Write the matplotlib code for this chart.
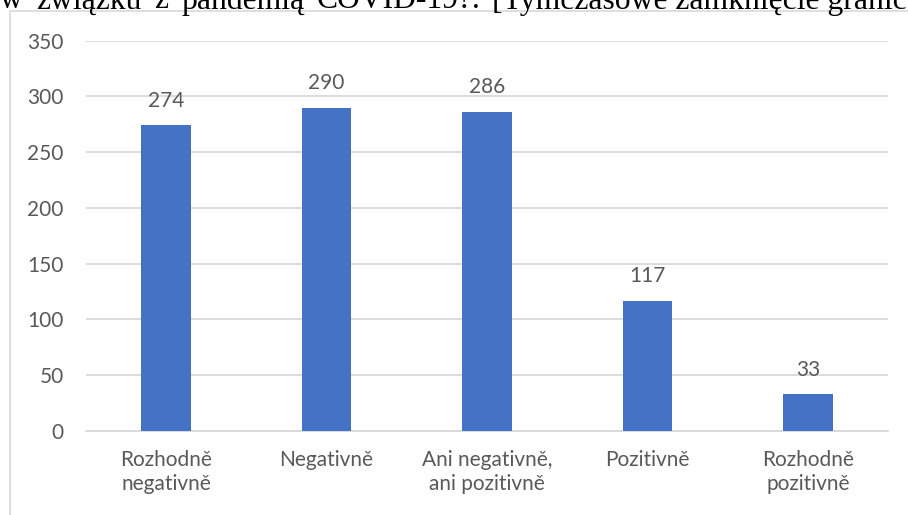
import matplotlib.pyplot as plt
import matplotlib.patches as mpatches

categories = ['Rozhodně\nnegativně', 'Negativně', 'Ani negativně,\nani pozitivně',
              'Pozitivně', 'Rozhodně\npozitivně']
values = [274, 290, 286, 117, 33]
yticks = [0, 50, 100, 150, 200, 250, 300, 350]
title_left_words = ['w', 'związku', 'z', 'pandemią', 'COVID-19?.']
title_right = '[Tymczasowe zamknięcie granic]'

bar_color = '#4472C4'
text_color = '#595959'
grid_color = '#D9D9D9'

plt.rcParams['font.family'] = ['Lato', 'DejaVu Sans']

fig = plt.figure(figsize=(9.08, 5.15), dpi=100)
W, H = 908, 515

# chart frame (cut off on the right and bottom like the screenshot)
frame = mpatches.Rectangle((10 / W, -0.1), 1.2, 1 - 11 / H + 0.1,
                           transform=fig.transFigure, fill=False,
                           edgecolor=grid_color, lw=1.2)
fig.patches.append(frame)

# clipped line of justified document text above the chart
base_y = 1 - 8.5 / H
tkw = dict(family='Liberation Serif', fontsize=22.8, color='black',
           va='baseline', ha='left')
fig.text(492 / W, base_y, title_right, **tkw)
renderer = fig.canvas.get_renderer()
words = [fig.text(0, base_y, w_, **tkw) for w_ in title_left_words]
widths = [t.get_window_extent(renderer).width for t in words]
gap = (481 - sum(widths)) / (len(words) - 1)
xpos = 0
for t, wd in zip(words, widths):
    t.set_x(xpos / W)
    xpos += wd + gap

ax = fig.add_axes([86 / W, 1 - 431 / H, 802 / W, 390.3 / H])
x = range(len(categories))
bars = ax.bar(x, values, width=0.31, color=bar_color, zorder=3)

ax.set_xlim(-0.5, len(categories) - 0.5)
ax.set_ylim(0, 350)
ax.set_yticks(yticks)
ax.set_xticks(list(x))
ax.set_xticklabels(categories, linespacing=1.25)

ax.grid(axis='y', color=grid_color, lw=1.3, zorder=0)
for s in ['top', 'right', 'left']:
    ax.spines[s].set_visible(False)
ax.spines['bottom'].set_color(grid_color)
ax.spines['bottom'].set_linewidth(1.3)

ax.tick_params(axis='both', length=0, labelsize=15, colors=text_color)
ax.tick_params(axis='y', pad=16)
ax.tick_params(axis='x', pad=14)

for b, v in zip(bars, values):
    ax.annotate(str(v), (b.get_x() + b.get_width() / 2, v),
                xytext=(0, 10.5), textcoords='offset points',
                ha='center', va='bottom', fontsize=15, color=text_color)

plt.savefig('out.png', dpi=100)
